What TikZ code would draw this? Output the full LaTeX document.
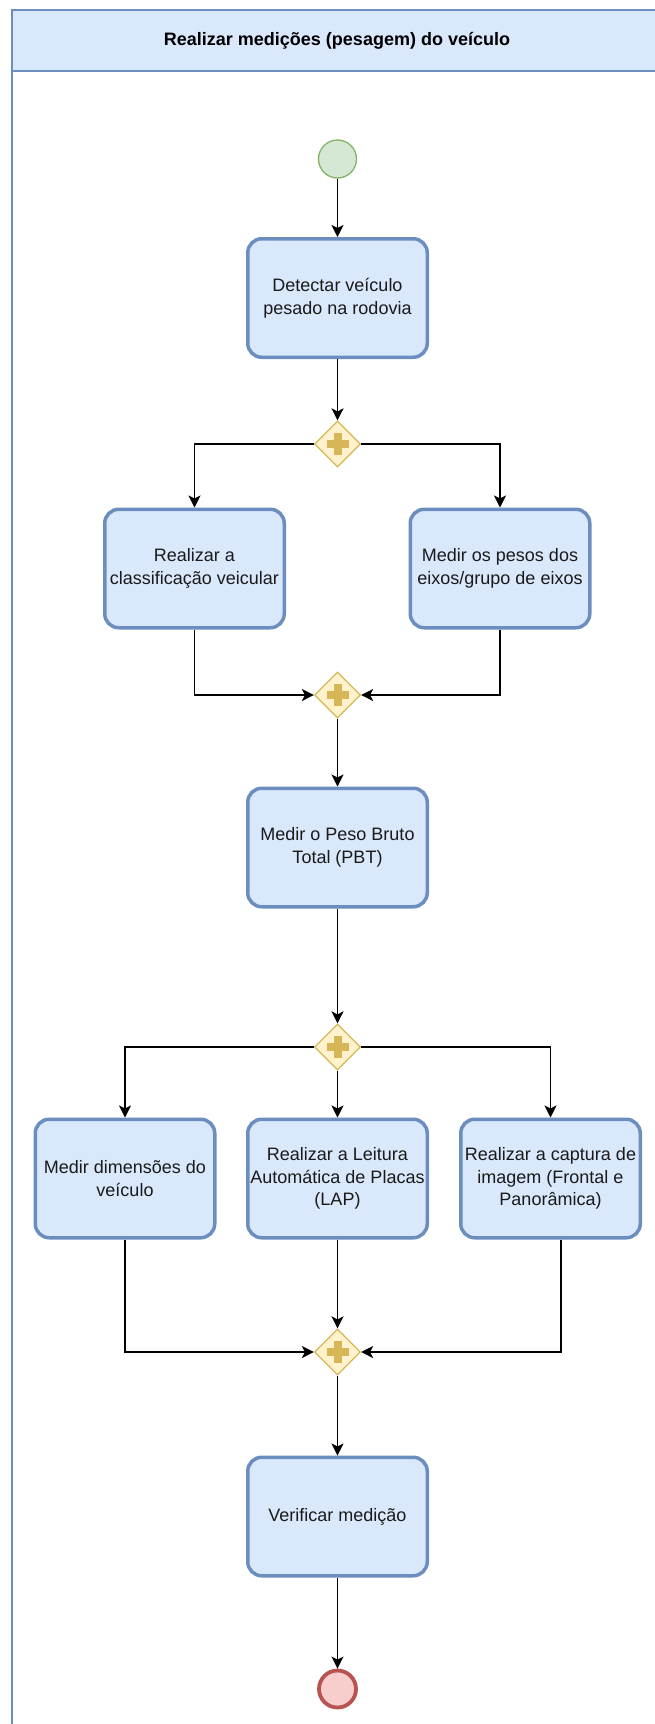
\documentclass[tikz,border=0pt]{standalone}
\usepackage{fontspec}
\setmainfont{Liberation Sans}
\usepackage{tikz}
\usepackage{xcolor}
\usetikzlibrary{shapes.geometric,arrows.meta,calc}

\definecolor{tarefaFill}{HTML}{DAE8FC}
\definecolor{tarefaBorda}{HTML}{6C8EBF}
\definecolor{portaFill}{HTML}{FFF2CC}
\definecolor{portaBorda}{HTML}{D6B656}
\definecolor{inicioFill}{HTML}{D5E8D4}
\definecolor{inicioBorda}{HTML}{82B366}
\definecolor{fimFill}{HTML}{F8CECC}
\definecolor{fimBorda}{HTML}{B85450}
\definecolor{texto}{HTML}{1A1A1A}

\tikzset{
  tarefa/.style={rectangle, fill=tarefaFill, draw=tarefaBorda, line width=3.5pt,
    rounded corners=14pt, minimum width=179.5pt, minimum height=118.5pt,
    inner sep=2pt, align=center, text=texto,
    font=\fontsize{18}{22.7}\selectfont},
  porta/.style={diamond, aspect=1, fill=portaFill, draw=portaBorda, line width=1.2pt,
    minimum width=46pt, minimum height=46pt, inner sep=0pt,
    path picture={
      \fill[portaBorda] ($(path picture bounding box.center)+(-11,-4)$) rectangle ++(22,8);
      \fill[portaBorda] ($(path picture bounding box.center)+(-4,-11)$) rectangle ++(8,22);
    }},
  inicio/.style={circle, fill=inicioFill, draw=inicioBorda, line width=1.3pt,
    minimum size=38pt, inner sep=0pt},
  fim/.style={circle, fill=fimFill, draw=fimBorda, line width=3.8pt,
    minimum size=37pt, inner sep=0pt},
  fluxo/.style={draw=black, line width=1.6pt,
    -{Stealth[length=12pt,width=12pt,inset=3pt]}},
  raia/.style={draw=tarefaBorda, line width=1.6pt}
}

\begin{document}
\begin{tikzpicture}[x=1pt,y=-1pt]
\useasboundingbox (0,0) rectangle (655,1724);

% pool
\fill[tarefaFill] (12,10) rectangle (662,71);
\draw[raia] (12,1730) -- (12,10) -- (662,10);
\draw[raia] (12,71) -- (662,71);
\node[font=\fontsize{18}{22}\selectfont\bfseries, text=black] (titulo) at (337,41) {Realizar medições (pesagem) do veículo};

% eventos, tarefas e portas
\node[inicio] (ini) at (337.5,159) {};
\node[tarefa] (detectar) at (337.5,298) {Detectar veículo\\pesado na rodovia};
\node[porta] (p1) at (337.5,444) {};
\node[tarefa] (classif) at (194.5,568.5) {Realizar a\\classificação veicular};
\node[tarefa] (eixos) at (500,568.5) {Medir os pesos dos\\eixos/grupo de eixos};
\node[porta] (p2) at (337.5,695) {};
\node[tarefa] (pbt) at (337.5,847.5) {Medir o Peso Bruto\\Total (PBT)};
\node[porta] (p3) at (337.5,1047) {};
\node[tarefa] (dimensoes) at (125,1178.5) {Medir dimensões do\\veículo};
\node[tarefa] (lap) at (337.5,1178.5) {Realizar a Leitura\\Automática de Placas\\(LAP)};
\node[tarefa] (captura) at (550.5,1178.5) {Realizar a captura de\\imagem (Frontal e\\Panorâmica)};
\node[porta] (p4) at (337.5,1352) {};
\node[tarefa] (verificar) at (337.5,1516.5) {Verificar medição};
\node[fim] (fim) at (337.5,1689) {};

% fluxos
\draw[fluxo] (ini) -- (detectar);
\draw[fluxo] (detectar) -- (p1);
\draw[fluxo] (p1.west) -| (classif.north);
\draw[fluxo] (p1.east) -| (eixos.north);
\draw[fluxo] (classif.south) |- (p2.west);
\draw[fluxo] (eixos.south) |- (p2.east);
\draw[fluxo] (p2) -- (pbt);
\draw[fluxo] (pbt) -- (p3);
\draw[fluxo] (p3.west) -| (dimensoes.north);
\draw[fluxo] (p3) -- (lap);
\draw[fluxo] (p3.east) -| (captura.north);
\draw[fluxo] (dimensoes.south) |- (p4.west);
\draw[fluxo] (lap) -- (p4);
\draw[fluxo] ([xshift=10.5pt]captura.south) |- (p4.east);
\draw[fluxo] (p4) -- (verificar);
\draw[fluxo] (verificar) -- (fim);
\end{tikzpicture}
\end{document}
